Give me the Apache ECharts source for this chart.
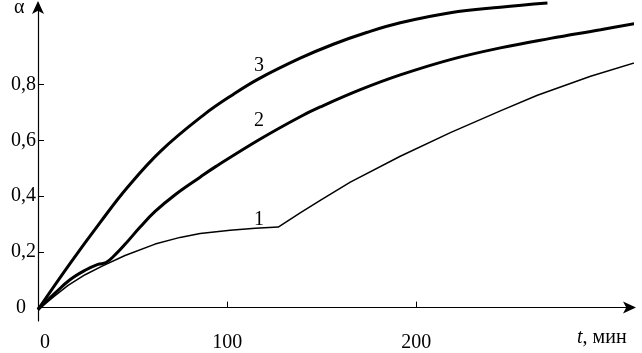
<!DOCTYPE html>
<html>
<head>
<meta charset="utf-8">
<script src="https://cdn.jsdelivr.net/npm/echarts@6/dist/echarts.min.js"></script>
<style>
  html, body { margin: 0; padding: 0; background: #fff; }
  #chart { width: 642px; height: 353px; }
</style>
</head>
<body>
<div id="chart"></div>
<script>
// time, min
var curve1T = [0, 9, 15.9, 24.9, 33.9, 46, 61.9, 75.1, 85.7, 101.6, 114.8, 127, 138.6, 149.2, 165.1, 191.5, 218, 244.4, 264, 292.1, 319.6];
var curve1A = [-0.007, 0.043, 0.08, 0.118, 0.149, 0.187, 0.228, 0.252, 0.266, 0.278, 0.285, 0.289, 0.34, 0.385, 0.45, 0.543, 0.628, 0.706, 0.762, 0.83, 0.887];

var curve2T = [0, 9, 16.9, 24.9, 31.7, 36, 40.7, 46, 54, 61.9, 72.5, 85.7, 93.7, 117.5, 138.6, 149.2, 170.4, 191.5, 218, 244.4, 270.9, 297.4, 319.6];
var curve2A = [-0.007, 0.052, 0.1, 0.134, 0.155, 0.162, 0.189, 0.227, 0.289, 0.345, 0.405, 0.468, 0.505, 0.605, 0.685, 0.72, 0.782, 0.835, 0.89, 0.932, 0.966, 0.997, 1.024];

var curve3T = [0, 16.9, 32.8, 47.1, 64.6, 87.3, 103.2, 116.4, 138.6, 156.1, 174.1, 191.5, 218, 244.4, 269.3];
var curve3A = [-0.007, 0.158, 0.305, 0.43, 0.56, 0.69, 0.765, 0.82, 0.895, 0.945, 0.988, 1.022, 1.058, 1.078, 1.093];

var xLabelValues = [0, 100, 200];
var xTickValues = [100, 200];
var yLabelValues = [0, 0.2, 0.4, 0.6, 0.8];
var yTickValues = [0.2, 0.4, 0.6, 0.8];

function zip(t, a) {
    return t.map(function (v, i) { return [v, a[i]]; });
}

var font = '"Liberation Serif", "Times New Roman", serif';
var chart = echarts.init(document.getElementById('chart'));

chart.setOption({
    animation: false,
    textStyle: { fontFamily: font },
    grid: { left: 38, right: 10, top: 3, bottom: 18 },
    xAxis: {
        type: 'value',
        min: 0,
        max: 314,
        splitLine: { show: false },
        axisLine: {
            onZero: true,
            symbol: ['none', 'arrow'],
            symbolSize: [9, 13],
            symbolOffset: [0, 4],
            lineStyle: { color: '#000', width: 1.2 }
        },
        axisTick: { inside: true, length: 6, customValues: xTickValues, lineStyle: { color: '#000' } },
        axisLabel: {
            customValues: xLabelValues,
            margin: 12,
            color: '#000',
            fontFamily: font,
            fontSize: 20,
            formatter: function (v) { return v === 0 ? '{z|0}' : String(v); },
            rich: { z: { padding: [0, 0, 0, 14], fontFamily: font, fontSize: 20, color: '#000' } }
        }
    },
    yAxis: {
        type: 'value',
        min: -0.048,
        max: 1.093,
        splitLine: { show: false },
        axisLine: {
            show: true,
            symbol: ['none', 'arrow'],
            symbolSize: [9, 13],
            symbolOffset: [0, 2],
            lineStyle: { color: '#000', width: 1.2 }
        },
        axisTick: { show: true, inside: true, length: 6, customValues: yTickValues, lineStyle: { color: '#000' } },
        axisLabel: {
            customValues: yLabelValues,
            margin: 2,
            color: '#000',
            fontFamily: font,
            fontSize: 20,
            formatter: function (v) {
                return v === 0 ? '{z|0}' : v.toFixed(1).replace('.', ',');
            },
            rich: { z: { padding: [0, 10, 0, 0], fontFamily: font, fontSize: 20, color: '#000' } }
        }
    },
    series: [
        {
            name: '1', type: 'line', data: zip(curve1T, curve1A),
            showSymbol: false, clip: false, smooth: false,
            lineStyle: { color: '#000', width: 1.5 }
        },
        {
            name: '2', type: 'line', data: zip(curve2T, curve2A),
            showSymbol: false, clip: false, smooth: 0.4,
            lineStyle: { color: '#000', width: 3 }
        },
        {
            name: '3', type: 'line', data: zip(curve3T, curve3A),
            showSymbol: false, clip: false, smooth: 0.4,
            lineStyle: { color: '#000', width: 3 }
        }
    ],
    graphic: [
        { type: 'text', left: 14, top: -2, style: { text: 'α', font: '20px "Liberation Serif", serif', fill: '#000' } },
        { type: 'text', left: 254, top: 56, style: { text: '3', font: '20px "Liberation Serif", serif', fill: '#000' } },
        { type: 'text', left: 254, top: 111, style: { text: '2', font: '20px "Liberation Serif", serif', fill: '#000' } },
        { type: 'text', left: 254, top: 210, style: { text: '1', font: '20px "Liberation Serif", serif', fill: '#000' } },
        {
            type: 'text', left: 577, top: 328,
            style: {
                text: '{i|t}, мин',
                font: '20px "Liberation Serif", serif',
                fill: '#000',
                rich: { i: { fontStyle: 'italic', fontFamily: font, fontSize: 20, fill: '#000' } }
            }
        }
    ]
});
</script>
</body>
</html>
